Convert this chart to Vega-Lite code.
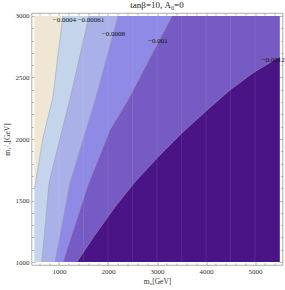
{
  "$schema": "https://vega.github.io/schema/vega-lite/v6.json",
  "width": 251,
  "height": 252,
  "autosize": {"type": "none"},
  "padding": {"left": 31.5, "top": 13, "right": 2.5, "bottom": 25},
  "background": "white",
  "title": {"text": "tanβ=10, A₀=0", "font": "Liberation Serif", "fontSize": 9, "fontWeight": "normal", "color": "#222", "offset": 2},
  "config": {
    "view": {"stroke": "#999", "strokeWidth": 0.8},
    "axis": {"labelFont": "Liberation Serif", "labelFontSize": 7, "labelColor": "#333", "tickColor": "#888", "tickWidth": 0.6, "domain": false, "grid": false, "format": "d", "titleFont": "Liberation Serif", "titleFontSize": 7.5, "titleFontWeight": "normal", "titleColor": "#333"}
  },
  "datasets": {
    "b0": [{"m12": 1000, "m0": 500}, {"m12": 3000, "m0": 500}],
    "b1": [{"m12": 1000, "m0": 500}, {"m12": 1590, "m0": 500}, {"m12": 2008, "m0": 673}, {"m12": 2341, "m0": 877}, {"m12": 2700, "m0": 985}, {"m12": 3000, "m0": 1081}],
    "b2": [{"m12": 1000, "m0": 650}, {"m12": 1650, "m0": 800}, {"m12": 2008, "m0": 1024}, {"m12": 2358, "m0": 1245}, {"m12": 3000, "m0": 1612}],
    "b3": [{"m12": 1000, "m0": 918}, {"m12": 1642, "m0": 1224}, {"m12": 2341, "m0": 1755}, {"m12": 3000, "m0": 2204}],
    "b4": [{"m12": 1000, "m0": 1082}, {"m12": 1626, "m0": 1592}, {"m12": 2073, "m0": 2041}, {"m12": 2317, "m0": 2408}, {"m12": 3000, "m0": 3306}],
    "b5": [{"m12": 1000, "m0": 1367}, {"m12": 1220, "m0": 1735}, {"m12": 1447, "m0": 2143}, {"m12": 1650, "m0": 2551}, {"m12": 1870, "m0": 3061}, {"m12": 2049, "m0": 3510}, {"m12": 2220, "m0": 3980}, {"m12": 2398, "m0": 4490}, {"m12": 2537, "m0": 4959}, {"m12": 2668, "m0": 5500}],
    "lines": [
      {"c": "1", "m12": 1590, "m0": 500}, {"c": "1", "m12": 2008, "m0": 673}, {"c": "1", "m12": 2341, "m0": 877}, {"c": "1", "m12": 2700, "m0": 985}, {"c": "1", "m12": 3000, "m0": 1081},
      {"c": "2", "m12": 1000, "m0": 650}, {"c": "2", "m12": 1650, "m0": 800}, {"c": "2", "m12": 2008, "m0": 1024}, {"c": "2", "m12": 2358, "m0": 1245}, {"c": "2", "m12": 3000, "m0": 1612},
      {"c": "3", "m12": 1000, "m0": 918}, {"c": "3", "m12": 1642, "m0": 1224}, {"c": "3", "m12": 2341, "m0": 1755}, {"c": "3", "m12": 3000, "m0": 2204},
      {"c": "4", "m12": 1000, "m0": 1082}, {"c": "4", "m12": 1626, "m0": 1592}, {"c": "4", "m12": 2073, "m0": 2041}, {"c": "4", "m12": 2317, "m0": 2408}, {"c": "4", "m12": 3000, "m0": 3306},
      {"c": "5", "m12": 1000, "m0": 1367}, {"c": "5", "m12": 1220, "m0": 1735}, {"c": "5", "m12": 1447, "m0": 2143}, {"c": "5", "m12": 1650, "m0": 2551}, {"c": "5", "m12": 1870, "m0": 3061}, {"c": "5", "m12": 2049, "m0": 3510}, {"c": "5", "m12": 2220, "m0": 3980}, {"c": "5", "m12": 2398, "m0": 4490}, {"c": "5", "m12": 2537, "m0": 4959}, {"c": "5", "m12": 2668, "m0": 5500}
    ],
    "labels": [
      {"t": "−0.0004", "m0": 1110, "m12": 2965},
      {"t": "−0.00061", "m0": 1650, "m12": 2965},
      {"t": "−0.0008", "m0": 2110, "m12": 2850},
      {"t": "−0.001", "m0": 3020, "m12": 2795},
      {"t": "−0.0012", "m0": 5370, "m12": 2640}
    ],
    "seams": [{"m0": 1000}, {"m0": 1500}, {"m0": 2000}, {"m0": 2500}, {"m0": 3000}, {"m0": 3500}, {"m0": 4000}, {"m0": 4500}, {"m0": 5000}]
  },
  "resolve": {"axis": {"x": "independent", "y": "independent"}},
  "layer": [
    {
      "data": {"name": "b0"},
      "mark": {"type": "area", "orient": "horizontal", "color": "#EFE6D4"},
      "encoding": {
        "y": {"field": "m12", "type": "quantitative", "scale": {"domain": [976, 3024], "nice": false, "zero": false},
              "axis": {"orient": "left", "values": [1000, 1500, 2000, 2500, 3000], "tickSize": -3.5, "labelPadding": 6, "title": "m₁/₂[GeV]", "titlePadding": 4}},
        "x": {"field": "m0", "type": "quantitative", "stack": null, "scale": {"domain": [440, 5560], "nice": false, "zero": false},
              "axis": {"orient": "bottom", "values": [1000, 2000, 3000, 4000, 5000], "tickSize": -3.5, "labelPadding": 6, "title": "m₀[GeV]", "titlePadding": 3}},
        "x2": {"datum": 5500}
      }
    },
    {
      "data": {"name": "b1"},
      "mark": {"type": "area", "orient": "horizontal", "color": "#C3D4EB"},
      "encoding": {
        "y": {"field": "m12", "type": "quantitative", "axis": {"orient": "right", "values": [1000, 1500, 2000, 2500, 3000], "tickSize": -3.5, "labels": false, "title": null}},
        "x": {"field": "m0", "type": "quantitative", "stack": null, "axis": {"orient": "top", "values": [1000, 2000, 3000, 4000, 5000], "tickSize": -3.5, "labels": false, "title": null}},
        "x2": {"datum": 5500}
      }
    },
    {
      "data": {"name": "b2"},
      "mark": {"type": "area", "orient": "horizontal", "color": "#AAB1E8"},
      "encoding": {
        "y": {"field": "m12", "type": "quantitative", "axis": {"orient": "left", "values": [1100, 1200, 1300, 1400, 1600, 1700, 1800, 1900, 2100, 2200, 2300, 2400, 2600, 2700, 2800, 2900], "tickSize": -2, "labels": false, "title": null}},
        "x": {"field": "m0", "type": "quantitative", "stack": null, "axis": {"orient": "bottom", "values": [600, 800, 1200, 1400, 1600, 1800, 2200, 2400, 2600, 2800, 3200, 3400, 3600, 3800, 4200, 4400, 4600, 4800, 5200, 5400], "tickSize": -2, "labels": false, "title": null}},
        "x2": {"datum": 5500}
      }
    },
    {
      "data": {"name": "b3"},
      "mark": {"type": "area", "orient": "horizontal", "color": "#8F8AE6"},
      "encoding": {
        "y": {"field": "m12", "type": "quantitative", "axis": {"orient": "right", "values": [1100, 1200, 1300, 1400, 1600, 1700, 1800, 1900, 2100, 2200, 2300, 2400, 2600, 2700, 2800, 2900], "tickSize": -2, "labels": false, "title": null}},
        "x": {"field": "m0", "type": "quantitative", "stack": null, "axis": {"orient": "top", "values": [600, 800, 1200, 1400, 1600, 1800, 2200, 2400, 2600, 2800, 3200, 3400, 3600, 3800, 4200, 4400, 4600, 4800, 5200, 5400], "tickSize": -2, "labels": false, "title": null}},
        "x2": {"datum": 5500}
      }
    },
    {
      "data": {"name": "b4"},
      "mark": {"type": "area", "orient": "horizontal", "color": "#765BC4"},
      "encoding": {
        "y": {"field": "m12", "type": "quantitative", "axis": null},
        "x": {"field": "m0", "type": "quantitative", "stack": null, "axis": null},
        "x2": {"datum": 5500}
      }
    },
    {
      "data": {"name": "b5"},
      "mark": {"type": "area", "orient": "horizontal", "color": "#4A1486"},
      "encoding": {
        "y": {"field": "m12", "type": "quantitative", "axis": null},
        "x": {"field": "m0", "type": "quantitative", "stack": null, "axis": null},
        "x2": {"datum": 5500}
      }
    },
    {
      "data": {"name": "seams"},
      "mark": {"type": "rule", "color": "white", "opacity": 0.1, "strokeWidth": 0.8},
      "encoding": {
        "x": {"field": "m0", "type": "quantitative", "axis": null},
        "y": {"datum": 1000, "axis": null},
        "y2": {"datum": 3000}
      }
    },
    {
      "data": {"name": "lines"},
      "mark": {"type": "line", "color": "#999", "opacity": 0.7, "strokeWidth": 0.7},
      "encoding": {
        "x": {"field": "m0", "type": "quantitative", "axis": null},
        "y": {"field": "m12", "type": "quantitative", "axis": null},
        "detail": {"field": "c"},
        "order": {"field": "m12"}
      }
    },
    {
      "data": {"name": "labels"},
      "mark": {"type": "text", "font": "Liberation Serif", "fontSize": 7, "color": "#111"},
      "encoding": {
        "x": {"field": "m0", "type": "quantitative", "axis": null},
        "y": {"field": "m12", "type": "quantitative", "axis": null},
        "text": {"field": "t"}
      }
    }
  ]
}
